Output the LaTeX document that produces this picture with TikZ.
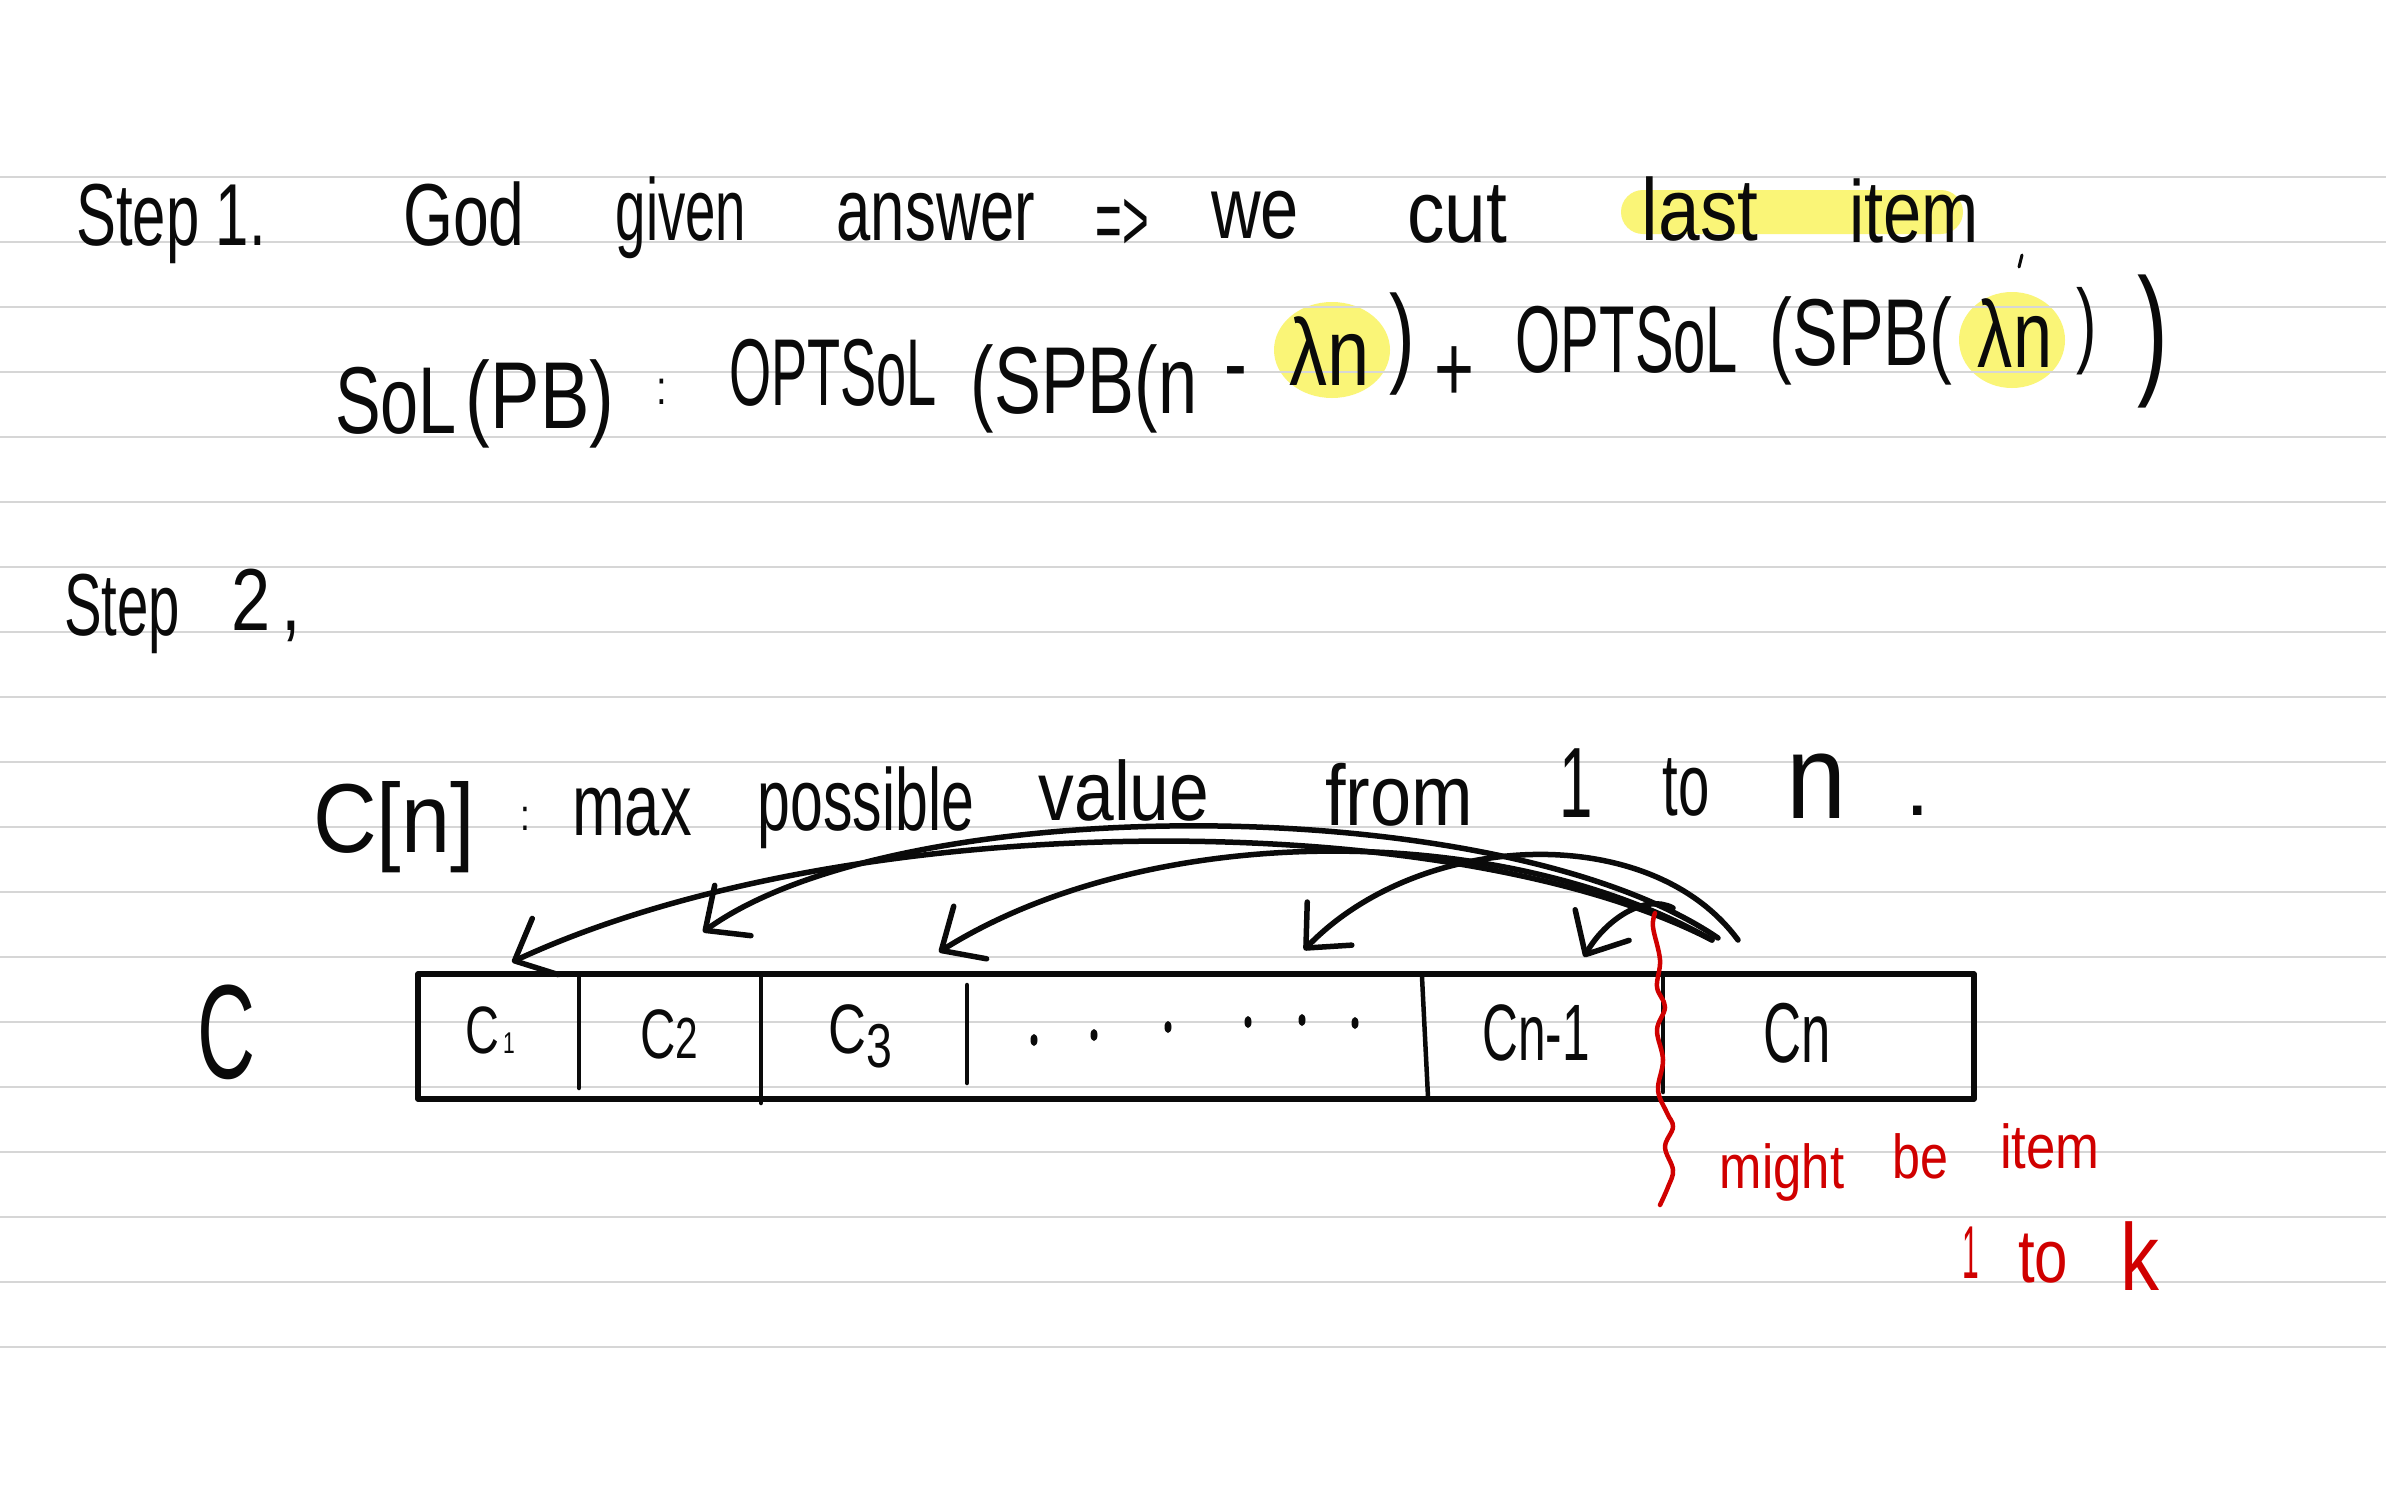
\documentclass[tikz,border=0pt]{standalone}
\usepackage{fontspec}
\usepackage{graphicx}
\newfontfamily\handfont{Liberation Sans}
\usetikzlibrary{arrows.meta}
\definecolor{rulegray}{RGB}{214,214,214}
\definecolor{hl}{RGB}{248,241,62}
\definecolor{pen}{RGB}{10,10,10}
\definecolor{redpen}{RGB}{208,0,0}
\newcommand\hwb[2]{\scalebox{#1}[1]{#2}}
\newcommand\fsz[1]{\fontsize{#1}{#1}\selectfont}
\begin{document}
\begin{tikzpicture}[x=1pt,y=-1pt,
  hw/.style={inner sep=0pt, outer sep=0pt, anchor=base, text=pen, font=\handfont},
  hwred/.style={hw, text=redpen},
  pencil/.style={draw=pen, line width=5.5pt, line cap=round, line join=round},
  thinpen/.style={draw=pen, line width=4.5pt, line cap=round},
  arr/.style={pencil, -{Straight Barb[length=34pt,width=62pt,round]}},
  ruleline/.style={draw=rulegray, line width=2.5pt},
  hilite/.style={fill=hl, fill opacity=0.7},
  redline/.style={draw=redpen, line width=4.5pt, line cap=round, line join=round}
]
\useasboundingbox (0,0) rectangle (2386,1491);
\fill[white] (0,0) rectangle (2386,1491);

% highlights
\fill[hilite, rounded corners=22pt] (1621,190) rectangle (1963,234);
\fill[hilite] (1332,350) ellipse [x radius=58pt, y radius=48pt];
\fill[hilite] (2012,340) ellipse [x radius=53pt, y radius=48pt];

% ruled lines
\foreach \k in {0,...,18}
  \draw[ruleline] (0,{177+65*\k}) -- (2386,{177+65*\k});

% ---------- Step 1 ----------
\node[hw] (s1) at (171,245) {\fsz{88}\hwb{0.68}{Step 1.}};
\node[hw] (god) at (464,245) {\fsz{88}\hwb{0.73}{God}};
\node[hw] (given) at (681,240) {\fsz{88}\hwb{0.62}{given}};
\node[hw] (answer) at (936,240) {\fsz{88}\hwb{0.70}{answer}};
\node[hw] (impl) at (1122,250) {\fsz{88}\hwb{0.52}{=>}};
\node[hw] (we) at (1255,238) {\fsz{88}\hwb{0.78}{we}};
\node[hw] (cut) at (1457,242) {\fsz{88}\hwb{0.85}{cut}};
\node[hw] (last) at (1700,240) {\fsz{88}\hwb{0.85}{last}};
\node[hw] (item) at (1914,242) {\fsz{88}\hwb{0.78}{item}};

% formula
\node[hw] (sol) at (396,433) {\fsz{95}\hwb{0.72}{SoL}};
\node[hw] (pb) at (540,428) {\fsz{95}\hwb{0.78}{(PB)}};
\node[hw] (colon1) at (662,404) {\fsz{48}\hwb{0.8}{:}};
\node[hw] (opt1) at (833,405) {\fsz{95}\hwb{0.57}{OPTSoL}};
\node[hw] (spb1) at (1084,413) {\fsz{95}\hwb{0.74}{(SPB(n}};
\node[hw] (minus) at (1236,395) {\fsz{95}\hwb{0.72}{-}};
\node[hw] (ln1) at (1330,385) {\fsz{95}\hwb{0.8}{λn}};
\node[hw] (cl1) at (1402,372) {\fsz{110}\hwb{0.7}{)}};
\node[hw] (plus) at (1454,401) {\fsz{95}\hwb{0.72}{+}};
\node[hw] (opt2) at (1627,372) {\fsz{95}\hwb{0.61}{OPTSoL}};
\node[hw] (spb2) at (1861,365) {\fsz{95}\hwb{0.72}{(SPB(}};
\node[hw] (ln2) at (2015,367) {\fsz{95}\hwb{0.74}{λn}};
\node[hw] (cl2) at (2087,355) {\fsz{94}\hwb{0.65}{)}};
\node[hw] (cl3) at (2153,378) {\fsz{143}\hwb{0.65}{)}};
\draw[thinpen, line width=3pt] (2022,255) -- (2019,267);

% ---------- Step 2 ----------
\node[hw] (s2) at (122,635) {\fsz{88}\hwb{0.64}{Step}};
\node[hw] (s2n) at (266,630) {\fsz{88}\hwb{0.8}{2\hspace{14pt},}};

\node[hw] (cn) at (394,852) {\fsz{98}\hwb{0.9}{C[n]}};
\node[hw] (colon2) at (525,830) {\fsz{44}\hwb{0.8}{:}};
\node[hw] (max) at (632,835) {\fsz{88}\hwb{0.72}{max}};
\node[hw] (possible) at (866,830) {\fsz{88}\hwb{0.67}{possible}};
\node[hw] (value) at (1124,820) {\fsz{84}\hwb{0.85}{value}};
\node[hw] (from) at (1399,825) {\fsz{86}\hwb{0.86}{from}};
\node[hw] (one) at (1576,817) {\fsz{100}\hwb{0.6}{1}};
\node[hw] (to) at (1686,815) {\fsz{88}\hwb{0.64}{to}};
\node[hw] (nn) at (1817,818) {\fsz{120}\hwb{0.9}{n}};
\node[hw] (dot) at (1918,815) {\fsz{88}.};

% array
\node[hw] (Clab) at (227,1078) {\fsz{134}\hwb{0.6}{C}};
\draw[pencil] (418,974) rectangle (1974,1099);
\draw[thinpen] (579,977) -- (579,1088);
\draw[thinpen] (761,977) -- (761,1103);
\draw[thinpen] (967,985) -- (967,1083);
\draw[thinpen] (1422,977) -- (1428,1097);
\draw[thinpen] (1663,975) -- (1663,1092);

\node[hw] (c1) at (490,1053) {\fsz{67}\hwb{0.7}{C\hspace{6pt}{\fsz{30}1}}};
\node[hw] (c2) at (669,1058) {\fsz{70}\hwb{0.7}{C{\fsz{58}2}}};
\node[hw] (c3) at (860,1053) {\fsz{70}\hwb{0.75}{C\raisebox{-14pt}{\fsz{62}3}}};
\node[hw] (cn1) at (1536,1060) {\fsz{80}\hwb{0.62}{Cn-1}};
\node[hw] (cnn) at (1797,1062) {\fsz{85}\hwb{0.62}{Cn}};

\foreach \p in {(1034,1040),(1094,1035),(1168,1027),(1248,1022),(1302,1020),(1355,1023)}
  \fill[pen] \p ellipse [x radius=3.5pt, y radius=6pt];

% arrows
\coordinate (a1s) at (1712,940);
\coordinate (a1t) at (512,962);
\coordinate (a2s) at (1718,938);
\coordinate (a2t) at (703,932);
\coordinate (a3s) at (1712,940);
\coordinate (a3t) at (939,952);
\coordinate (a4s) at (1738,940);
\coordinate (a4t) at (1304,950);
\coordinate (a5s) at (1673,908);
\coordinate (a5t) at (1584,957);
\draw[arr] (a1s) .. controls (1450,805) and (850,805) .. (a1t);
\draw[arr] (a2s) .. controls (1500,790) and (900,790) .. (a2t);
\draw[arr] (a3s) .. controls (1500,820) and (1150,820) .. (a3t);
\draw[arr] (a4s) .. controls (1650,820) and (1420,830) .. (a4t);
\draw[arr] (a5s) .. controls (1645,893) and (1605,920) .. (a5t);

% red annotation
\draw[redline] plot[smooth, tension=0.6] coordinates {(1655,913) (1653,927) (1660,960) (1657,987) (1665,1007) (1657,1030) (1663,1060) (1658,1090) (1667,1113) (1673,1127) (1665,1147) (1673,1170) (1668,1187) (1660,1205)};
\node[hwred] (might) at (1782,1188) {\fsz{62}\hwb{0.82}{might}};
\node[hwred] (be) at (1920,1178) {\fsz{62}\hwb{0.81}{be}};
\node[hwred] (ritem) at (2050,1168) {\fsz{62}\hwb{0.85}{item}};
\node[hwred] (rone) at (1971,1278) {\fsz{75}\hwb{0.4}{1}};
\node[hwred] (rto) at (2043,1282) {\fsz{75}\hwb{0.8}{to}};
\node[hwred] (rk) at (2140,1290) {\fsz{95}\hwb{0.82}{k}};
\end{tikzpicture}
\end{document}
